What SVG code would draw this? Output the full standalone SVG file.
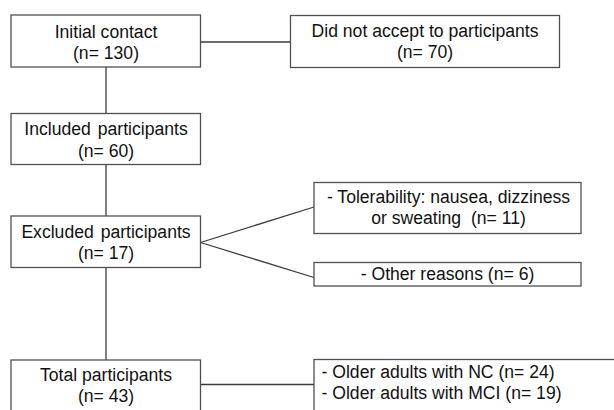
<svg xmlns="http://www.w3.org/2000/svg" width="614" height="410" viewBox="0 0 614 410">
<style>
.box{fill:#fff;stroke:#505050;stroke-width:1.3}
.ln{fill:none;stroke:#3a3a3a;stroke-width:1.3}
text{font-family:"Liberation Sans",Arial,sans-serif;font-size:17.6px;fill:#111}
.c{text-anchor:middle}
</style>
<rect width="614" height="410" fill="#fff"/>
<g id="connectors">
<line class="ln" x1="200.5" y1="42" x2="290.5" y2="42"/>
<line class="ln" x1="106" y1="67" x2="106" y2="113.5"/>
<line class="ln" x1="106" y1="164.5" x2="106" y2="216"/>
<line class="ln" x1="106" y1="267.5" x2="106" y2="360"/>
<line class="ln" x1="200.5" y1="242.5" x2="314" y2="207"/>
<line class="ln" x1="200.5" y1="242.5" x2="314" y2="277.5"/>
<line class="ln" x1="200.5" y1="384.5" x2="314" y2="384.5"/>
</g>
<g id="initial">
<rect class="box" x="11" y="15" width="189.5" height="52"/>
<text class="c" x="106" y="37.5">Initial contact</text>
<text class="c" x="106" y="58.5">(n= 130)</text>
</g>
<g id="declined">
<rect class="box" x="290.5" y="15.5" width="269" height="52"/>
<text class="c" x="425" y="36.8">Did not accept to participants</text>
<text class="c" x="425" y="58.3">(n= 70)</text>
</g>
<g id="included">
<rect class="box" x="11" y="113.5" width="189.5" height="51"/>
<text class="c" x="106" y="135" word-spacing="2">Included participants</text>
<text class="c" x="106" y="157.3">(n= 60)</text>
</g>
<g id="excluded">
<rect class="box" x="11" y="216" width="189.5" height="51.5"/>
<text class="c" x="106" y="237.7" word-spacing="2">Excluded participants</text>
<text class="c" x="106" y="259.3">(n= 17)</text>
</g>
<g id="tolerability">
<rect class="box" x="314" y="182.5" width="267" height="51"/>
<text class="c" x="448.5" y="203.3">- Tolerability: nausea, dizziness</text>
<text class="c" x="448.5" y="224" xml:space="preserve">or sweating  (n= 11)</text>
</g>
<g id="other">
<rect class="box" x="314" y="262.5" width="267" height="23.5"/>
<text class="c" x="447.5" y="280">- Other reasons (n= 6)</text>
</g>
<g id="total">
<rect class="box" x="11" y="360" width="189.5" height="60"/>
<text class="c" x="106" y="380.7">Total participants</text>
<text class="c" x="106" y="401.7">(n= 43)</text>
</g>
<g id="groups">
<rect class="box" x="314" y="359.5" width="320" height="60"/>
<text x="321.5" y="377.5">- Older adults with NC (n= 24)</text>
<text x="321.5" y="399.3">- Older adults with MCI (n= 19)</text>
</g>
</svg>
